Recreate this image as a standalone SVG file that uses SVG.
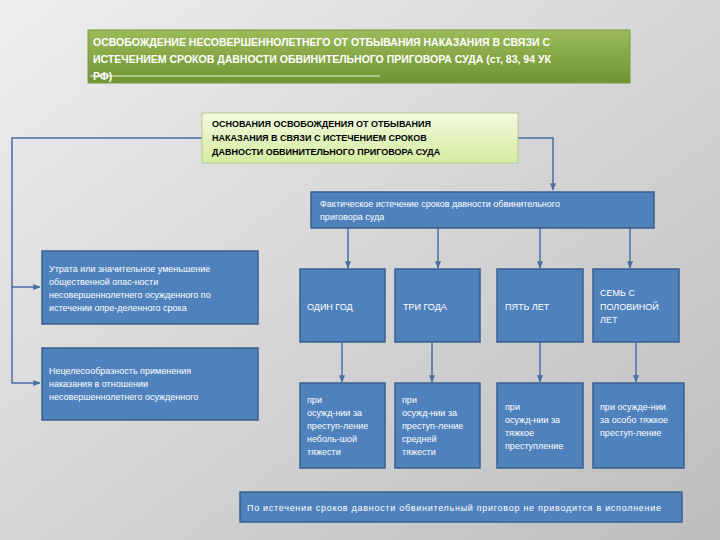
<svg xmlns="http://www.w3.org/2000/svg" width="720" height="540" viewBox="0 0 720 540">
<defs>
<linearGradient id="bg" x1="0" y1="0" x2="1" y2="1"><stop offset="0" stop-color="#eeeeee"/><stop offset="1" stop-color="#bdbdbd"/></linearGradient>
<linearGradient id="g1" x1="0" y1="0" x2="0" y2="1"><stop offset="0" stop-color="#9bbb59"/><stop offset="1" stop-color="#6f9431"/></linearGradient>
<linearGradient id="g2" x1="0" y1="0" x2="0" y2="1"><stop offset="0" stop-color="#f3fadf"/><stop offset="1" stop-color="#d4eca0"/></linearGradient>
<marker id="ar" viewBox="0 0 10 10" refX="9" refY="5" markerWidth="5" markerHeight="5" orient="auto"><path d="M0,1 L10,5 L0,9 z" fill="#4a6fa5"/></marker>
<style>
.b{fill:#4f81bd;stroke:#3a5f8f;stroke-width:1.5}
.t{font-family:"Liberation Sans",Arial,sans-serif;font-size:9px;fill:#fff}
.h{font-family:"Liberation Sans",Arial,sans-serif;font-weight:bold}
.c{fill:none;stroke:#4a6fa5;stroke-width:1.5}
</style>
</defs>
<rect width="720" height="540" fill="url(#bg)"/>
<g id="connectors">
<path class="c" d="M202,138 H12 V287 H40" marker-end="url(#ar)"/>
<path class="c" d="M12,287 V383 H40" marker-end="url(#ar)"/>
<path class="c" d="M518,138 H553 V190" marker-end="url(#ar)"/>
<path class="c" d="M348,228 V268" marker-end="url(#ar)"/>
<path class="c" d="M438,228 V268" marker-end="url(#ar)"/>
<path class="c" d="M540,228 V268" marker-end="url(#ar)"/>
<path class="c" d="M630,228 V268" marker-end="url(#ar)"/>
<path class="c" d="M342,342 V382" marker-end="url(#ar)"/>
<path class="c" d="M432,342 V382" marker-end="url(#ar)"/>
<path class="c" d="M540,342 V382" marker-end="url(#ar)"/>
<path class="c" d="M636,342 V382" marker-end="url(#ar)"/>
</g>
<g id="title">
<rect x="88" y="30" width="542" height="53" fill="url(#g1)" stroke="#7a9a45"/>
<text class="h" font-size="10.5" fill="#fff"><tspan x="93" y="46">ОСВОБОЖДЕНИЕ НЕСОВЕРШЕННОЛЕТНЕГО ОТ ОТБЫВАНИЯ НАКАЗАНИЯ В СВЯЗИ С</tspan><tspan x="93" y="63">ИСТЕЧЕНИЕМ СРОКОВ ДАВНОСТИ ОБВИНИТЕЛЬНОГО ПРИГОВОРА СУДА (ст, 83, 94 УК</tspan><tspan x="93" y="80">РФ)</tspan></text>
<line x1="90" y1="76" x2="380" y2="76" stroke="#fff" stroke-width="0.8"/>
</g>
<g id="basis">
<rect x="202" y="113" width="316" height="50" fill="url(#g2)" stroke="#b5c98a"/>
<text class="h" font-size="9" fill="#000"><tspan x="212" y="127">ОСНОВАНИЯ ОСВОБОЖДЕНИЯ ОТ ОТБЫВАНИЯ</tspan><tspan x="212" y="141">НАКАЗАНИЯ В СВЯЗИ С ИСТЕЧЕНИЕМ СРОКОВ</tspan><tspan x="212" y="155">ДАВНОСТИ ОБВИНИТЕЛЬНОГО ПРИГОВОРА СУДА</tspan></text>
</g>
<g id="fact">
<rect class="b" x="311" y="192" width="343" height="36"/>
<text class="t" font-size="8"><tspan x="320" y="207">Фактическое истечение сроков давности обвинительного</tspan><tspan x="320" y="220">приговора суда</tspan></text>
</g>
<g id="loss">
<rect class="b" x="42" y="251" width="216" height="73"/>
<text class="t" font-size="8"><tspan x="49" y="272">Утрата или значительное уменьшение</tspan><tspan x="49" y="285">общественной опас-ности</tspan><tspan x="49" y="298">несовершеннолетнего осужденного по</tspan><tspan x="49" y="311">истечении опре-деленного срока</tspan></text>
</g>
<g id="inexpedient">
<rect class="b" x="42" y="348" width="216" height="72"/>
<text class="t" font-size="8"><tspan x="49" y="374">Нецелесообразность применения</tspan><tspan x="49" y="387">наказания в отношении</tspan><tspan x="49" y="400">несовершеннолетнего осужденного</tspan></text>
</g>
<g id="y1"><rect class="b" x="300" y="269" width="85" height="73"/><text class="t" x="307" y="310">ОДИН ГОД</text></g>
<g id="y3"><rect class="b" x="395" y="269" width="85" height="73"/><text class="t" x="403" y="310">ТРИ ГОДА</text></g>
<g id="y5"><rect class="b" x="497" y="269" width="86" height="73"/><text class="t" x="505" y="310">ПЯТЬ ЛЕТ</text></g>
<g id="y75"><rect class="b" x="593" y="269" width="86" height="73"/><text class="t"><tspan x="600" y="296">СЕМЬ С</tspan><tspan x="600" y="310">ПОЛОВИНОЙ</tspan><tspan x="600" y="323">ЛЕТ</tspan></text></g>
<g id="c1"><rect class="b" x="300" y="383" width="85" height="85"/><text class="t"><tspan x="307" y="403">при</tspan><tspan x="307" y="416">осужд-нии за</tspan><tspan x="307" y="429">преступ-ление</tspan><tspan x="307" y="442">неболь-шой</tspan><tspan x="307" y="455">тяжести</tspan></text></g>
<g id="c3"><rect class="b" x="395" y="383" width="85" height="85"/><text class="t"><tspan x="402" y="403">при</tspan><tspan x="402" y="416">осужд-нии за</tspan><tspan x="402" y="429">преступ-ление</tspan><tspan x="402" y="442">средней</tspan><tspan x="402" y="455">тяжести</tspan></text></g>
<g id="c5"><rect class="b" x="497" y="383" width="86" height="85"/><text class="t"><tspan x="505" y="410">при</tspan><tspan x="505" y="423">осужд-нии за</tspan><tspan x="505" y="436">тяжкое</tspan><tspan x="505" y="449">преступление</tspan></text></g>
<g id="c75"><rect class="b" x="593" y="383" width="91" height="85"/><text class="t" font-size="8.5"><tspan x="600" y="410">при осужде-нии</tspan><tspan x="600" y="423">за особо тяжкое</tspan><tspan x="600" y="436">преступ-ление</tspan></text></g>
<g id="result"><rect class="b" x="240" y="492" width="442" height="30"/><text class="t" font-size="8.5" x="247" y="511" textLength="414">По истечении сроков давности обвинительный приговор не приводится в исполнение</text></g>
</svg>
